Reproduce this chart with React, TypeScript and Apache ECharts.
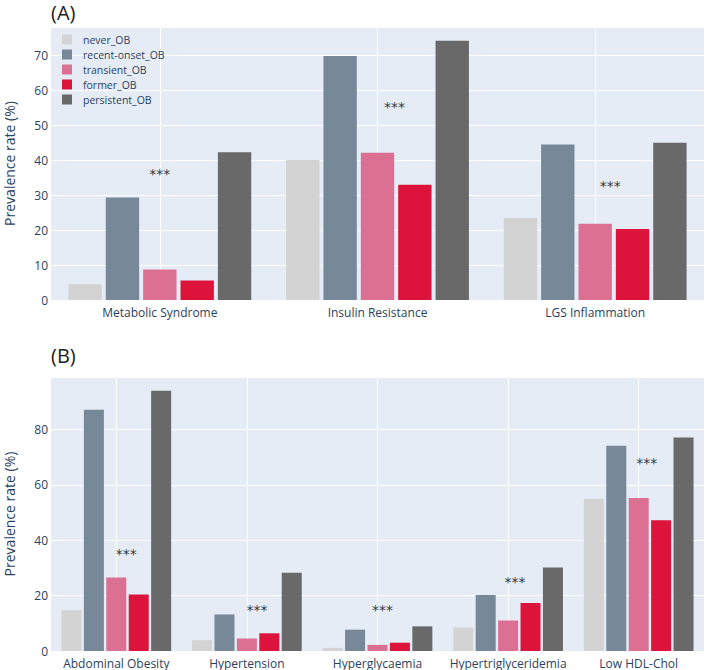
import React, { useEffect, useRef } from "react";
import * as echarts from "echarts";

const groups = ["never_OB", "recent-onset_OB", "transient_OB", "former_OB", "persistent_OB"];
const colors = ["#D3D3D3", "#778899", "#DB7093", "#DC143C", "#696969"];

const catsA = ["Metabolic Syndrome", "Insulin Resistance", "LGS Inflammation"];
const neverA = [4.5, 40.0, 23.4];
const recentA = [29.3, 69.7, 44.4];
const transientA = [8.7, 42.1, 21.8];
const formerA = [5.6, 32.9, 20.3];
const persistentA = [42.2, 74.1, 44.9];
const sigA = [36.4, 55.3, 32.9];

const catsB = ["Abdominal Obesity", "Hypertension", "Hyperglycaemia", "Hypertriglyceridemia", "Low HDL-Chol"];
const neverB = [14.7, 3.9, 1.1, 8.5, 55.0];
const recentB = [87.2, 13.2, 7.7, 20.2, 74.2];
const transientB = [26.6, 4.5, 2.2, 11.0, 55.3];
const formerB = [20.4, 6.4, 3.0, 17.3, 47.2];
const persistentB = [94.0, 28.3, 8.9, 30.2, 77.1];
const sigB = [35.5, 15.0, 15.0, 25.4, 68.4];

const sigLabel = "***";
const sigShiftA = [0, 17, 15];
const sigShiftB = [10, 10, 5, 7, 8];

const valsA = [neverA, recentA, transientA, formerA, persistentA];
const valsB = [neverB, recentB, transientB, formerB, persistentB];

const FONT = "Open Sans";
const TXT = "#2a3f5f";

export default function App() {
  const ref = useRef<HTMLDivElement>(null);
  useEffect(() => {
    document.body.style.margin = "0";
    const chart = echarts.init(ref.current!, undefined, { renderer: "svg" });
    const xAxisBase = (cats: string[], gridIndex: number) => ({
      type: "category",
      gridIndex,
      data: cats,
      axisLine: { show: false },
      axisTick: { show: false, alignWithLabel: true },
      splitLine: { show: true, alignWithLabel: true, lineStyle: { color: "#ffffff", width: 1 } },
      axisLabel: { color: TXT, fontFamily: FONT, fontSize: 12, margin: 6, interval: 0 },
    });
    const yAxisBase = (gridIndex: number, max: number, interval: number) => ({
      type: "value",
      gridIndex,
      min: 0,
      max,
      interval,
      name: "Prevalence rate (%)",
      nameLocation: "middle",
      nameGap: 35,
      nameTextStyle: { color: TXT, fontFamily: FONT, fontSize: 14 },
      axisLine: { show: false },
      axisTick: { show: false },
      splitLine: { show: true, lineStyle: { color: "#ffffff", width: 1 } },
      axisLabel: {
        color: TXT,
        fontFamily: FONT,
        fontSize: 12,
        margin: 3,
        showMaxLabel: false,
      },
    });
    const barSeries: any[] = [];
    groups.forEach((g, i) => {
      barSeries.push({
        type: "bar",
        name: g,
        xAxisIndex: 0,
        yAxisIndex: 0,
        data: valsA[i],
        itemStyle: { color: colors[i] },
        barCategoryGap: "16%",
        barGap: "12%",
        z: 3,
      });
      barSeries.push({
        type: "bar",
        name: g,
        xAxisIndex: 1,
        yAxisIndex: 1,
        data: valsB[i],
        itemStyle: { color: colors[i] },
        barCategoryGap: "16%",
        barGap: "12%",
        z: 3,
      });
    });
    const starSeries = (cats: string[], sig: number[], shift: number[], idx: number) => ({
      type: "scatter",
      xAxisIndex: idx,
      yAxisIndex: idx,
      symbolSize: 1,
      itemStyle: { color: "rgba(0,0,0,0)" },
      silent: true,
      z: 5,
      data: cats.map((c, j) => ({
        value: [c, sig[j]],
        label: { offset: [shift[j], 1] },
      })),
      label: {
        show: true,
        position: "inside",
        formatter: sigLabel,
        color: "#000",
        fontFamily: "DejaVu Sans",
        fontSize: 14,
      },
    });
    chart.setOption({
      animation: false,
      textStyle: { fontFamily: FONT },
      title: [
        { text: "(A)", left: 51, top: 2, padding: 0, textStyle: { fontFamily: FONT, fontSize: 20, fontWeight: "normal", color: "#222" } },
        { text: "(B)", left: 51, top: 345, padding: 0, textStyle: { fontFamily: FONT, fontSize: 20, fontWeight: "normal", color: "#222" } },
      ],
      legend: {
        data: groups,
        orient: "vertical",
        left: 62,
        top: 34,
        padding: 0,
        itemWidth: 10,
        itemHeight: 10,
        itemGap: 4,
        icon: "rect",
        textStyle: { color: TXT, fontFamily: FONT, fontSize: 10.5, padding: [0, 0, 0, 6] },
      },
      grid: [
        { left: 51, right: 4, top: 27, height: 273, show: true, backgroundColor: "#E5ECF6", borderWidth: 0, outerBoundsMode: "none", containLabel: false },
        { left: 51, right: 4, top: 377, height: 274, show: true, backgroundColor: "#E5ECF6", borderWidth: 0, outerBoundsMode: "none", containLabel: false },
      ],
      xAxis: [xAxisBase(catsA, 0), xAxisBase(catsB, 1)],
      yAxis: [yAxisBase(0, 78, 10), yAxisBase(1, 99, 20)],
      series: [...barSeries, starSeries(catsA, sigA, sigShiftA, 0), starSeries(catsB, sigB, sigShiftB, 1)],
    });
    return () => chart.dispose();
  }, []);
  return <div ref={ref} style={{ width: 708, height: 670 }} />;
}
